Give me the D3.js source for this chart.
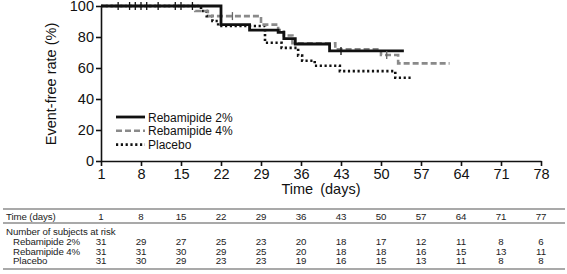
<!DOCTYPE html>
<html><head><meta charset="utf-8">
<script src="https://cdn.jsdelivr.net/npm/d3@7"></script>
<style>body{margin:0;background:#fff}svg{display:block;font-family:Arial,"Liberation Sans",sans-serif}</style>
</head><body><svg id="c" width="567" height="274"></svg>
<script>
// Data
const xTicks = [1, 8, 15, 22, 29, 36, 43, 50, 57, 64, 71, 78];
const yTicks = [0, 20, 40, 60, 80, 100];
const reb2Days = [1, 22, 27, 32, 33, 35, 41, 54];
const reb2Rate = [100, 88, 84.5, 83, 79, 75.5, 71, 71];
const reb4Days = [1, 17.5, 19.7, 29, 32, 33, 34.5, 42, 50, 53, 62];
const reb4Rate = [100, 96.8, 93.5, 88, 84.5, 81, 76, 72, 68.4, 63, 63];
const plaDays = [1, 18.5, 19.5, 20.5, 21.5, 29.7, 32.6, 35.5, 36.2, 38.4, 42.8, 52.5, 55.4];
const plaRate = [100, 96.8, 93.5, 90.3, 87.1, 76.3, 73, 68, 64.7, 61.5, 58, 53.7, 53.7];
const censorAllDays = [4, 6, 7, 8, 9, 11, 14, 15, 17];
const censorReb2Days = [43];
const censorReb4Days = [24, 51];
const seriesNames = ["Rebamipide 2%", "Rebamipide 4%", "Placebo"];
const tableTimes = [1, 8, 15, 22, 29, 36, 43, 50, 57, 64, 71, 77];
const riskReb2 = [31, 29, 27, 25, 23, 20, 18, 17, 12, 11, 8, 6];
const riskReb4 = [31, 31, 30, 29, 25, 20, 18, 18, 16, 15, 13, 11];
const riskPla = [31, 30, 29, 23, 23, 19, 16, 15, 13, 11, 8, 8];

const svg = d3.select("#c");
const x = d3.scaleLinear().domain([1, 78]).range([101, 541]);
const y = d3.scaleLinear().domain([0, 100]).range([161, 6]);

// axes
const gx = svg.append("g").attr("transform", `translate(0,${y(0)})`)
  .call(d3.axisBottom(x).tickValues(xTicks).tickSize(5).tickSizeOuter(0).tickPadding(3));
const gy = svg.append("g").attr("transform", `translate(${x(1)},0)`)
  .call(d3.axisLeft(y).tickValues(yTicks).tickSize(5).tickSizeOuter(0).tickPadding(2));
[gx, gy].forEach(g => {
  g.selectAll("path,line").attr("stroke", "#111").attr("stroke-width", 1.6);
  g.selectAll("text").attr("fill", "#111").style("font-size", "14.5px").style("font-family", "Arial, 'Liberation Sans', sans-serif");
});

svg.append("text").attr("x", 321).attr("y", 194).attr("text-anchor", "middle")
  .style("font-size", "14.5px").attr("fill", "#111").attr("word-spacing", "3px").text("Time (days)");
svg.append("text").attr("transform", "translate(56,84) rotate(-90)").attr("text-anchor", "middle")
  .style("font-size", "14.5px").attr("fill", "#111").text("Event-free rate (%)");

// curves
const line = d3.line().x(d => x(d[0])).y(d => y(d[1])).curve(d3.curveStepAfter);
const styles = [
  {stroke: "#111", dash: null, w: 2.8},
  {stroke: "#8a8a8a", dash: "6,3", w: 2.6},
  {stroke: "#111", dash: "2.2,2.6", w: 2.6}
];
const series = [
  d3.zip(reb2Days, reb2Rate),
  d3.zip(reb4Days, reb4Rate),
  d3.zip(plaDays, plaRate)
];
[2, 1, 0].forEach(i => {
  svg.append("path").datum(series[i]).attr("d", line).attr("fill", "none")
    .attr("stroke", styles[i].stroke).attr("stroke-width", styles[i].w)
    .attr("stroke-dasharray", styles[i].dash);
});

// censor marks
function stepVal(days, rates, d) {
  let v = rates[0];
  for (let i = 0; i < days.length; i++) if (days[i] <= d) v = rates[i];
  return v;
}
const ticks = [];
censorAllDays.forEach(d => ticks.push({d, v: 100, c: "#111"}));
censorReb2Days.forEach(d => ticks.push({d, v: stepVal(reb2Days, reb2Rate, d), c: "#111"}));
censorReb4Days.forEach(d => ticks.push({d, v: stepVal(reb4Days, reb4Rate, d), c: "#666"}));
svg.selectAll(".cens").data(ticks).join("line")
  .attr("x1", d => x(d.d)).attr("x2", d => x(d.d))
  .attr("y1", d => y(d.v) - 4).attr("y2", d => y(d.v) + 4)
  .attr("stroke", d => d.c).attr("stroke-width", 1.3);

// legend
const lg = svg.append("g");
seriesNames.forEach((n, i) => {
  const ly = 117 + i * 13.8;
  lg.append("line").attr("x1", 116).attr("x2", 145).attr("y1", ly).attr("y2", ly)
    .attr("stroke", styles[i].stroke).attr("stroke-width", styles[i].w)
    .attr("stroke-dasharray", styles[i].dash);
  lg.append("text").attr("x", 148).attr("y", ly + 4.5).style("font-size", "12px")
    .attr("fill", "#111").text(n);
});

// risk table
const tcol = i => x(xTicks[i]);
const tfont = "9.7px";
const tls = "-0.1px";
[209, 223, 269].forEach(ly => svg.append("line").attr("x1", 3).attr("x2", 565).attr("y1", ly).attr("y2", ly)
  .attr("stroke", "#555").attr("stroke-width", 1.2));
function ttext(xx, yy, s, anchor) {
  return svg.append("text").attr("x", xx).attr("y", yy).attr("text-anchor", anchor || "start")
    .style("font-size", tfont).style("letter-spacing", tls).attr("fill", "#222").text(s);
}
ttext(6, 219.5, "Time (days)");
tableTimes.forEach((d, i) => ttext(tcol(i), 219.5, d, "middle"));
ttext(6, 235, "Number of subjects at risk");
const rows = [riskReb2, riskReb4, riskPla];
rows.forEach((r, k) => {
  const ry = 244.7 + k * 9.8;
  ttext(13, ry, seriesNames[k]);
  r.forEach((d, i) => ttext(tcol(i), ry, d, "middle"));
});
</script></body></html>
